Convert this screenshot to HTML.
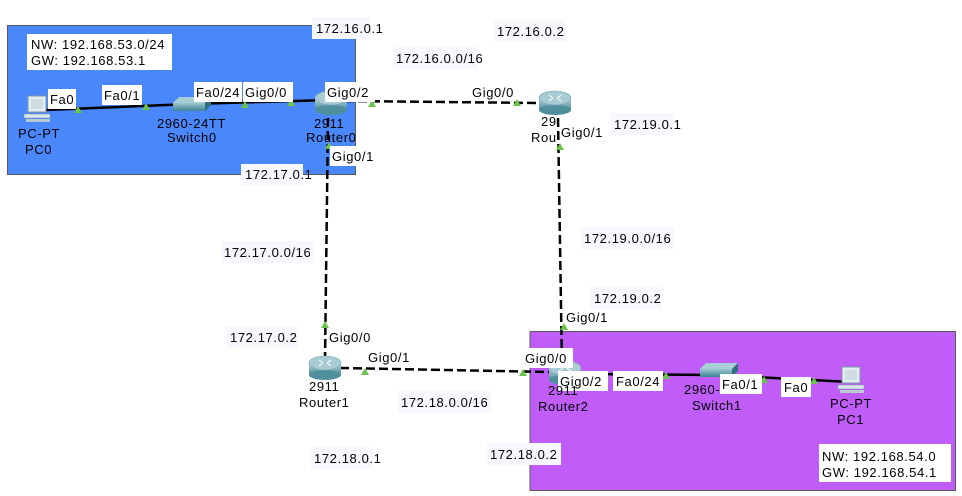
<!DOCTYPE html>
<html><head><meta charset="utf-8"><style>
html,body{margin:0;padding:0;background:#fff;}
svg{display:block;}
text{font-family:"Liberation Sans",Arial,sans-serif;font-size:13px;fill:#000;letter-spacing:0.6px;}
</style></head><body>
<svg width="962" height="496" viewBox="0 0 962 496" xmlns="http://www.w3.org/2000/svg">
<defs>
<linearGradient id="rg" x1="0" y1="0" x2="0" y2="1"><stop offset="0" stop-color="#b8d4da"/><stop offset="1" stop-color="#4d8e9c"/></linearGradient>
<linearGradient id="sg" x1="0" y1="0" x2="0" y2="1"><stop offset="0" stop-color="#9cc6cf"/><stop offset="1" stop-color="#3f8392"/></linearGradient>
<g id="router"><rect x="0" y="7" width="32" height="12" fill="url(#rg)"/><ellipse cx="16" cy="19" rx="16" ry="5" fill="#4f8f9c"/><ellipse cx="16" cy="7" rx="16" ry="7" fill="#a9cbd3" stroke="#7aa8b3" stroke-width="0.6"/><path d="M10 4 L14 7 M22 4 L18 7 M10 10 L14 7 M22 10 L18 7" stroke="#fff" stroke-width="1"/></g>
<g id="switch"><path d="M6 0 L38 0 L32 6 L0 6 Z" fill="#a8cfd6"/><rect x="0" y="6" width="32" height="8" fill="url(#sg)"/><path d="M32 6 L38 0 L38 8 L32 14 Z" fill="#2f6f7c"/></g>
<g id="pc"><rect x="4" y="0" width="18" height="16" fill="#e4eef2" stroke="#7d9aa5"/><rect x="7" y="3" width="12" height="10" fill="#cfdde3"/><rect x="0" y="18" width="26" height="4" fill="#dbe7ec" stroke="#7d9aa5" stroke-width="0.6"/><rect x="2" y="23" width="24" height="3" fill="#b9cbd2"/></g>
<g id="tri"><path d="M-4 3 L0 -4 L4 3 Z" fill="#6cc24a"/></g>
</defs>

<rect x="7.5" y="25.5" width="348" height="149" fill="#4a87fa" stroke="#5a5a5a"/>
<rect x="530" y="331.5" width="425.5" height="159" fill="#c05cf8" stroke="#5a5a5a"/>

<g stroke="#000" stroke-width="2.5" fill="none">
<path d="M45 110 L190 104 L330 100"/>
<path d="M577 374 L718 375 L850 382"/>
</g>
<g stroke="#000" stroke-width="2.5" fill="none" stroke-dasharray="9,4">
<path d="M345 101 L540 103"/>
<path d="M328 118 L325 360"/>
<path d="M558 118 L562 368"/>
<path d="M340 368 L550 372"/>
</g>

<use href="#tri" x="78" y="110"/>
<use href="#tri" x="146" y="107"/>
<use href="#tri" x="245" y="105"/>
<use href="#tri" x="291" y="103"/>
<use href="#tri" x="372" y="104"/>
<use href="#tri" x="517" y="103"/>
<use href="#tri" x="329" y="146"/>
<use href="#tri" x="325" y="325"/>
<use href="#tri" x="560" y="147"/>
<use href="#tri" x="564" y="327"/>
<use href="#tri" x="365" y="372"/>
<use href="#tri" x="523" y="373"/>
<use href="#tri" x="605" y="375"/>
<use href="#tri" x="666" y="376"/>
<use href="#tri" x="764" y="380"/>
<use href="#tri" x="814" y="381"/>

<use href="#pc" x="24" y="96"/>
<use href="#switch" x="173" y="97"/>
<use href="#router" x="315" y="91"/>
<use href="#router" x="539" y="91"/>
<use href="#router" x="309" y="356"/>
<use href="#router" x="549" y="361"/>
<use href="#switch" x="700" y="363"/>
<use href="#pc" x="838" y="367"/>

<g fill="#f7f8fd">
<rect x="312" y="17" width="59" height="22"/>
<rect x="494" y="20" width="72" height="22"/>
<rect x="393" y="47" width="85" height="22"/>
<rect x="611" y="113" width="62" height="22"/>
<rect x="241" y="164" width="62" height="22"/>
<rect x="221" y="241" width="93" height="22"/>
<rect x="581" y="227" width="93" height="22"/>
<rect x="590" y="287" width="72" height="22"/>
<rect x="226" y="326" width="72" height="22"/>
<rect x="398" y="391" width="93" height="22"/>
<rect x="311" y="447" width="62" height="22"/>
<rect x="487" y="443" width="74" height="22"/>
</g>
<g fill="#fff">
<rect x="27" y="34" width="145" height="36"/>
<rect x="48" y="89" width="28" height="20"/>
<rect x="102" y="85" width="40" height="20"/>
<rect x="194" y="82" width="48" height="20"/>
<rect x="243" y="82" width="50" height="20"/>
<rect x="325" y="82" width="50" height="20"/>
<rect x="330" y="146" width="33" height="20"/>
<rect x="560" y="122" width="33" height="20"/>
<rect x="523" y="348" width="50" height="20"/>
<rect x="558" y="371" width="50" height="20"/>
<rect x="613" y="371" width="50" height="20"/>
<rect x="720" y="374" width="42" height="20"/>
<rect x="781" y="377" width="30" height="20"/>
<rect x="819" y="444" width="132" height="38"/>
</g>

<text x="316" y="33">172.16.0.1</text>
<text x="497" y="36">172.16.0.2</text>
<text x="396" y="63">172.16.0.0/16</text>
<text x="31" y="49">NW: 192.168.53.0/24</text>
<text x="31" y="65">GW: 192.168.53.1</text>
<text x="50" y="104">Fa0</text>
<text x="104" y="100">Fa0/1</text>
<text x="196" y="97">Fa0/24</text>
<text x="245" y="97">Gig0/0</text>
<text x="327" y="97">Gig0/2</text>
<text x="472" y="97">Gig0/0</text>
<text x="18" y="138">PC-PT</text>
<text x="25" y="154">PC0</text>
<text x="157" y="128">2960-24TT</text>
<text x="167" y="142">Switch0</text>
<text x="314" y="128">2911</text>
<text x="306" y="142">Router0</text>
<text x="332" y="161">Gig0/1</text>
<text x="541" y="126">29</text>
<text x="531" y="142">Rou</text>
<text x="561" y="137">Gig0/1</text>
<text x="614" y="129">172.19.0.1</text>
<text x="245" y="179">172.17.0.1</text>
<text x="224" y="257">172.17.0.0/16</text>
<text x="584" y="243">172.19.0.0/16</text>
<text x="594" y="303">172.19.0.2</text>
<text x="566" y="322">Gig0/1</text>
<text x="230" y="342">172.17.0.2</text>
<text x="329" y="342">Gig0/0</text>
<text x="368" y="362">Gig0/1</text>
<text x="525" y="363">Gig0/0</text>
<text x="560" y="386">Gig0/2</text>
<text x="616" y="386">Fa0/24</text>
<text x="309" y="391">2911</text>
<text x="299" y="407">Router1</text>
<text x="401" y="407">172.18.0.0/16</text>
<text x="548" y="395">2911</text>
<text x="538" y="411">Router2</text>
<text x="684" y="394">2960-</text>
<text x="722" y="389">Fa0/1</text>
<text x="692" y="410">Switch1</text>
<text x="784" y="392">Fa0</text>
<text x="830" y="408">PC-PT</text>
<text x="837" y="424">PC1</text>
<text x="314" y="463">172.18.0.1</text>
<text x="490" y="459">172.18.0.2</text>
<text x="822" y="461">NW: 192.168.54.0</text>
<text x="822" y="477">GW: 192.168.54.1</text>
</svg>
</body></html>
